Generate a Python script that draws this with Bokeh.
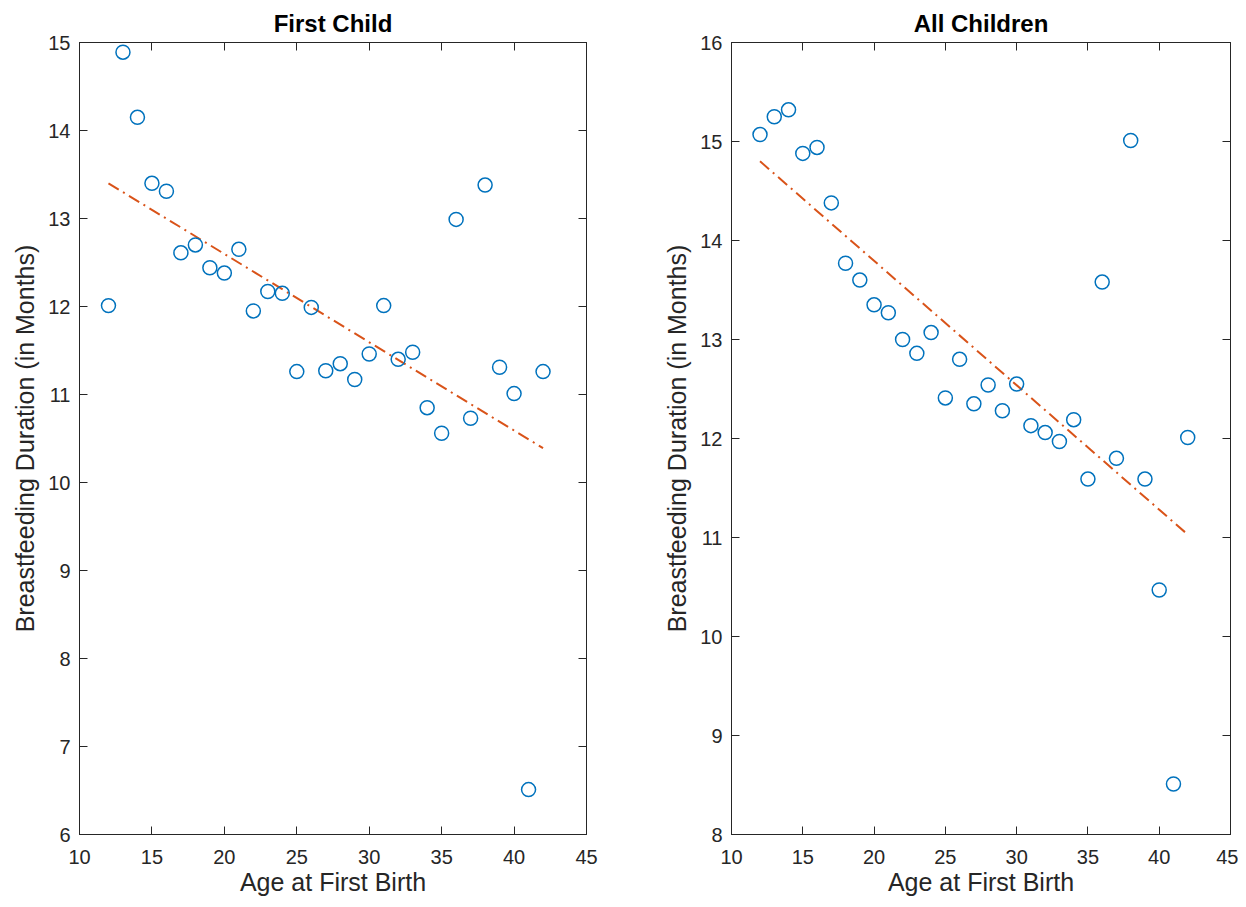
from bokeh.plotting import figure
from bokeh.layouts import row
from bokeh.models import LinearAxis, FixedTicker, Range1d
from bokeh.embed import file_html
from bokeh.resources import INLINE

# ---- data ----
ages = list(range(12, 43))
first_child = [12.01, 14.89, 14.15, 13.40, 13.31, 12.61, 12.70, 12.44, 12.38, 12.65,
               11.95, 12.17, 12.15, 11.26, 11.99, 11.27, 11.35, 11.17, 11.46, 12.01,
               11.40, 11.48, 10.85, 10.56, 12.99, 10.73, 13.38, 11.31, 11.01, 6.51, 11.26]
all_children = [15.07, 15.25, 15.32, 14.88, 14.94, 14.38, 13.77, 13.60, 13.35, 13.27,
                13.00, 12.86, 13.07, 12.41, 12.80, 12.35, 12.54, 12.28, 12.55, 12.13,
                12.06, 11.97, 12.19, 11.59, 13.58, 11.80, 15.01, 11.59, 10.47, 8.51, 12.01]
fit_x = [12, 42]
fit_first = [13.40, 10.39]
fit_all = [14.80, 11.03]

x_ticks = [10, 15, 20, 25, 30, 35, 40, 45]
y_ticks_first = [6, 7, 8, 9, 10, 11, 12, 13, 14, 15]
y_ticks_all = [8, 9, 10, 11, 12, 13, 14, 15, 16]

FONT = "Liberation Sans"
AX = "#262626"
BLUE = "#0072BD"
ORANGE = "#D95319"


def style_axis(ax, ticks, show_labels=True):
    ax.ticker = FixedTicker(ticks=ticks)
    ax.axis_line_color = AX
    ax.axis_line_width = 1
    ax.major_tick_line_color = AX
    ax.major_tick_in = 8
    ax.major_tick_out = 0
    ax.minor_tick_line_color = None
    ax.major_label_text_font = FONT
    if show_labels:
        ax.major_label_text_color = AX
        ax.major_label_text_font_size = "20px"
        ax.major_label_standoff = 9
    else:
        ax.major_label_text_color = None
        ax.major_label_text_font_size = "1px"
        ax.major_label_standoff = 0
    ax.axis_label_text_font = FONT
    ax.axis_label_text_font_size = "25px"
    ax.axis_label_text_font_style = "normal"
    ax.axis_label_text_color = AX


def make_plot(title, yvals, fit_y, yr, yticks, width, left, right):
    p = figure(width=width, height=899, output_backend="svg", toolbar_location=None,
               x_range=Range1d(10, 45), y_range=Range1d(*yr),
               min_border_left=left, min_border_right=right,
               min_border_top=42, min_border_bottom=65,
               x_axis_label="Age at First Birth",
               y_axis_label="Breastfeeding Duration (in Months)")
    p.title.text = title
    p.title.text_font = FONT
    p.title.text_font_size = "24px"
    p.title.text_font_style = "bold"
    p.title.text_color = "black"
    p.title.align = "center"
    p.title.standoff = 11
    p.grid.visible = False
    p.outline_line_color = AX
    p.outline_line_width = 1
    p.background_fill_color = "white"
    p.border_fill_color = "white"
    style_axis(p.xaxis[0], x_ticks)
    style_axis(p.yaxis[0], yticks)
    p.xaxis[0].major_label_standoff = 15
    p.xaxis[0].axis_label_standoff = 1
    p.yaxis[0].axis_label_standoff = 6
    top = LinearAxis()
    style_axis(top, x_ticks, show_labels=False)
    p.add_layout(top, "above")
    rt = LinearAxis()
    style_axis(rt, yticks, show_labels=False)
    p.add_layout(rt, "right")

    p.line(fit_x, fit_y, line_color=ORANGE, line_width=2, line_dash="12 5 2 5")
    p.scatter(ages, yvals, marker="circle", size=14, fill_color=None,
              line_color=BLUE, line_width=1.5)
    return p


p1 = make_plot("First Child", first_child, fit_first, (6, 15), y_ticks_first, 600, 79, 14)
p2 = make_plot("All Children", all_children, fit_all, (8, 16), y_ticks_all, 638, 131, 8)

layout = row(p1, p2)
open("out.html", "w").write(file_html(layout, INLINE))
